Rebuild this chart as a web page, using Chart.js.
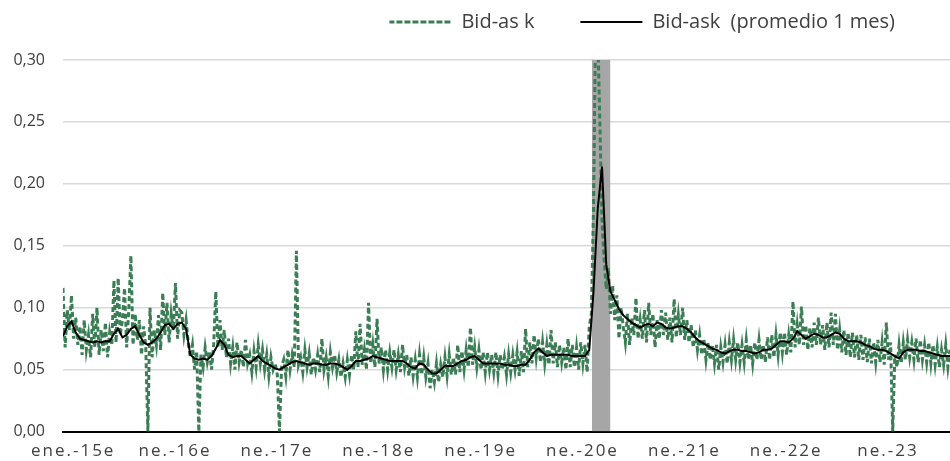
<!DOCTYPE html>
<html>
<head>
<meta charset="utf-8">
<script src="https://cdn.jsdelivr.net/npm/chart.js@4"></script>
<style>
  html, body { margin: 0; padding: 0; background: #fff; }
  #wrap { width: 950px; height: 461px; position: relative; }
</style>
</head>
<body>
<div id="wrap"><canvas id="chart"></canvas></div>
<script>
// Bid-ask spread, weekly observations (4 per month) from ene-2015, months on x axis
const bidAskStep = 0.25;
const bidAsk = [
  // 2015
  0.116, 0.068, 0.098, 0.082, 0.110, 0.075, 0.092, 0.070, 0.085, 0.062, 0.090, 0.066,
  0.078, 0.060, 0.095, 0.068, 0.100, 0.062, 0.082, 0.065, 0.088, 0.060, 0.080, 0.070,
  0.122, 0.072, 0.124, 0.078, 0.090, 0.116, 0.068, 0.098, 0.142, 0.070, 0.095, 0.074,
  0.090, 0.062, 0.085, 0.068, 0.000, 0.100, 0.060, 0.082, 0.070, 0.094, 0.066, 0.112,
  // 2016
  0.078, 0.104, 0.072, 0.095, 0.082, 0.120, 0.075, 0.098, 0.096, 0.078, 0.090, 0.072,
  0.060, 0.070, 0.050, 0.065, 0.000, 0.062, 0.052, 0.068, 0.056, 0.065, 0.050, 0.070,
  0.113, 0.068, 0.090, 0.066, 0.082, 0.060, 0.075, 0.055, 0.068, 0.050, 0.072, 0.056,
  0.066, 0.052, 0.074, 0.055, 0.062, 0.048, 0.065, 0.052, 0.070, 0.055, 0.066, 0.050,
  // 2017
  0.062, 0.045, 0.060, 0.050, 0.055, 0.046, 0.000, 0.052, 0.058, 0.045, 0.066, 0.050,
  0.062, 0.052, 0.146, 0.054, 0.060, 0.048, 0.066, 0.052, 0.063, 0.046, 0.060, 0.050,
  0.062, 0.048, 0.075, 0.050, 0.060, 0.045, 0.064, 0.052, 0.062, 0.048, 0.058, 0.044,
  0.055, 0.044, 0.058, 0.046, 0.062, 0.050, 0.081, 0.052, 0.087, 0.054, 0.066, 0.050,
  // 2018
  0.104, 0.055, 0.070, 0.052, 0.091, 0.055, 0.068, 0.050, 0.066, 0.050, 0.064, 0.052,
  0.066, 0.050, 0.062, 0.048, 0.070, 0.052, 0.062, 0.045, 0.060, 0.045, 0.058, 0.044,
  0.062, 0.046, 0.060, 0.044, 0.055, 0.035, 0.050, 0.040, 0.055, 0.040, 0.054, 0.044,
  0.060, 0.045, 0.062, 0.046, 0.060, 0.046, 0.070, 0.048, 0.065, 0.050, 0.066, 0.052,
  // 2019
  0.084, 0.054, 0.068, 0.052, 0.066, 0.050, 0.064, 0.048, 0.064, 0.050, 0.062, 0.048,
  0.064, 0.046, 0.062, 0.050, 0.060, 0.046, 0.062, 0.048, 0.062, 0.050, 0.064, 0.045,
  0.065, 0.048, 0.083, 0.052, 0.072, 0.055, 0.078, 0.060, 0.075, 0.056, 0.072, 0.055,
  0.070, 0.054, 0.082, 0.055, 0.072, 0.052, 0.070, 0.056, 0.068, 0.050, 0.075, 0.052,
  // 2020
  0.070, 0.052, 0.068, 0.050, 0.072, 0.055, 0.070, 0.048, 0.085, 0.095, 0.180, 0.330,
  0.320, 0.250, 0.170, 0.140, 0.115, 0.132, 0.095, 0.118, 0.090, 0.110, 0.075, 0.100,
  0.085, 0.072, 0.095, 0.070, 0.092, 0.078, 0.108, 0.075, 0.090, 0.075, 0.098, 0.072,
  0.104, 0.078, 0.095, 0.068, 0.090, 0.075, 0.098, 0.078, 0.096, 0.074, 0.092, 0.072,
  // 2021
  0.107, 0.076, 0.094, 0.078, 0.100, 0.074, 0.090, 0.072, 0.086, 0.068, 0.082, 0.066,
  0.078, 0.062, 0.075, 0.058, 0.072, 0.058, 0.070, 0.055, 0.070, 0.050, 0.068, 0.056,
  0.070, 0.055, 0.072, 0.058, 0.074, 0.058, 0.072, 0.056, 0.070, 0.056, 0.074, 0.058,
  0.070, 0.055, 0.072, 0.058, 0.074, 0.058, 0.070, 0.056, 0.076, 0.058, 0.078, 0.060,
  // 2022
  0.078, 0.062, 0.080, 0.064, 0.080, 0.062, 0.078, 0.064, 0.105, 0.068, 0.086, 0.070,
  0.101, 0.070, 0.086, 0.066, 0.084, 0.068, 0.088, 0.070, 0.092, 0.070, 0.086, 0.066,
  0.088, 0.068, 0.096, 0.070, 0.095, 0.066, 0.082, 0.064, 0.082, 0.062, 0.080, 0.060,
  0.080, 0.060, 0.078, 0.058, 0.078, 0.058, 0.076, 0.056, 0.075, 0.055, 0.072, 0.056,
  // 2023
  0.074, 0.056, 0.072, 0.054, 0.088, 0.058, 0.072, 0.000, 0.062, 0.052, 0.070, 0.055,
  0.072, 0.058, 0.074, 0.060, 0.072, 0.058, 0.075, 0.056, 0.074, 0.058, 0.070, 0.056,
  0.072, 0.055, 0.070, 0.054, 0.068, 0.052, 0.066, 0.054, 0.070, 0.052, 0.066
];

// 1-month average, two readings per month
const avgStep = 0.5;
const bidAskAvg = [
  // 2015
  0.077, 0.085, 0.089, 0.080, 0.075, 0.074, 0.073, 0.072, 0.073, 0.072, 0.073, 0.073,
  0.079, 0.083, 0.076, 0.078, 0.083, 0.085, 0.078, 0.072, 0.070, 0.072, 0.075, 0.080,
  // 2016
  0.086, 0.087, 0.083, 0.087, 0.088, 0.083, 0.062, 0.059, 0.058, 0.059, 0.058, 0.061,
  0.067, 0.074, 0.070, 0.062, 0.060, 0.061, 0.061, 0.058, 0.055, 0.058, 0.061, 0.057,
  // 2017
  0.055, 0.053, 0.051, 0.050, 0.052, 0.054, 0.056, 0.057, 0.056, 0.055, 0.054, 0.055,
  0.055, 0.054, 0.054, 0.055, 0.055, 0.054, 0.052, 0.050, 0.053, 0.057, 0.057, 0.058,
  // 2018
  0.059, 0.061, 0.060, 0.059, 0.058, 0.057, 0.057, 0.057, 0.057, 0.055, 0.052, 0.051,
  0.055, 0.054, 0.050, 0.047, 0.047, 0.050, 0.053, 0.053, 0.053, 0.055, 0.057, 0.058,
  // 2019
  0.060, 0.061, 0.058, 0.055, 0.055, 0.055, 0.055, 0.055, 0.054, 0.054, 0.053, 0.053,
  0.054, 0.054, 0.058, 0.064, 0.067, 0.064, 0.061, 0.062, 0.062, 0.062, 0.062, 0.062,
  // 2020
  0.061, 0.061, 0.061, 0.061, 0.066, 0.113, 0.180, 0.214, 0.135, 0.113, 0.106, 0.099,
  0.094, 0.091, 0.088, 0.086, 0.084, 0.086, 0.087, 0.085, 0.088, 0.087, 0.084, 0.083,
  // 2021
  0.084, 0.085, 0.085, 0.083, 0.080, 0.076, 0.073, 0.071, 0.069, 0.067, 0.066, 0.064,
  0.063, 0.065, 0.066, 0.066, 0.065, 0.065, 0.064, 0.063, 0.064, 0.066, 0.066, 0.067,
  // 2022
  0.070, 0.073, 0.073, 0.072, 0.075, 0.081, 0.078, 0.075, 0.077, 0.079, 0.078, 0.076,
  0.076, 0.078, 0.080, 0.079, 0.075, 0.073, 0.073, 0.073, 0.072, 0.070, 0.069, 0.067,
  // 2023
  0.066, 0.066, 0.065, 0.063, 0.061, 0.059, 0.064, 0.066, 0.066, 0.066, 0.065, 0.065,
  0.064, 0.063, 0.062, 0.061, 0.061, 0.061
];

// shaded stress window (months since ene-2015) and its height
const shadeRange = [62.3, 64.5];
const shadeTop = 0.30;

const xTickMonths = [1.2, 13.2, 25.2, 37.2, 49.2, 61.2, 73.2, 85.2, 97.2];
const xLabels = ['ene.-15e', 'ne.-16e', 'ne.-17e', 'ne.-18e', 'ne.-19e', 'ne.-20e', 'ne.-21e', 'ne.-22e', 'ne.-23'];
const seriesNames = ['Bid-as k', 'Bid-ask  (promedio 1 mes)'];

const textColor = '#404040';
const family = "'Open Sans', 'Noto Sans', sans-serif";

// legend sits in the top band: fixed band height, text centred near y=21
const legendBand = 60;
const legendTextTop = 12;
const legendGap = 46;
const legendRightInset = 9;

const legendPlacement = {
  id: 'legendPlacement',
  afterInit(chart) {
    const legend = chart.legend;
    const fit = legend.fit;
    legend.fit = function () {
      fit.call(this);
      this.height = legendBand;
    };
  },
  afterUpdate(chart) {
    // wider tracking on the date labels, as in the source
    const x = chart.scales.x;
    if (!x._tracked) {
      const draw = x.drawLabels;
      x.drawLabels = function (area) {
        this.ctx.save();
        this.ctx.letterSpacing = '2px';
        draw.call(this, area);
        this.ctx.restore();
      };
      x._tracked = true;
    }
  },
  afterLayout(chart) {
    chart.legend.top = legendTextTop - legendGap;
    chart.legend.right -= legendRightInset;
  },
};

new Chart(document.getElementById('chart'), {
  type: 'line',
  data: {
    datasets: [
      {
        label: seriesNames[0],
        data: bidAsk.map((v, i) => ({ x: i * bidAskStep, y: v })),
        borderColor: '#3b7d54',
        backgroundColor: '#3b7d54',
        borderWidth: 3,
        borderDash: [5, 3],
        pointRadius: 0,
        tension: 0,
        order: 1,
      },
      {
        label: seriesNames[1],
        data: bidAskAvg.map((v, i) => ({ x: i * avgStep, y: v })),
        borderColor: '#000000',
        backgroundColor: '#000000',
        borderWidth: 2,
        pointRadius: 0,
        tension: 0,
        order: 0,
      },
      {
        label: 'shade',
        data: shadeRange.map(x => ({ x, y: shadeTop })),
        borderWidth: 0,
        backgroundColor: '#a6a6a6',
        fill: 'origin',
        pointRadius: 0,
        order: 2,
      },
    ],
  },
  options: {
    responsive: true,
    maintainAspectRatio: false,
    animation: false,
    layout: { padding: { left: 12, right: 0, top: 0, bottom: -9 } },
    scales: {
      x: {
        type: 'linear',
        min: 0,
        max: 104.5,
        afterBuildTicks: axis => { axis.ticks = xTickMonths.map(value => ({ value })); },
        afterFit: axis => { axis.paddingLeft = 0; axis.paddingRight = 0; },
        ticks: {
          color: textColor,
          font: { family, size: 17 },
          padding: 9,
          maxRotation: 0,
          autoSkip: false,
          callback: (value, index) => xLabels[index],
        },
        grid: { display: false, drawTicks: false },
        border: { display: true, color: '#000000', width: 2 },
      },
      y: {
        min: 0,
        max: 0.30,
        afterFit: axis => { axis.width = 51; },
        ticks: {
          stepSize: 0.05,
          color: textColor,
          font: { family, size: 16 },
          padding: 18,
          callback: v => v.toFixed(2).replace('.', ','),
        },
        grid: { color: '#d9d9d9', lineWidth: 1.5, drawTicks: false },
        border: { display: false },
      },
    },
    plugins: {
      legend: {
        position: 'top',
        align: 'end',
        labels: {
          color: textColor,
          font: { family, size: 20 },
          boxWidth: 62,
          boxHeight: 0,
          padding: legendGap,
          filter: item => item.datasetIndex !== 2,
          sort: (a, b) => a.datasetIndex - b.datasetIndex,
        },
      },
      tooltip: { enabled: false },
    },
  },
  plugins: [legendPlacement],
});
</script>
</body>
</html>
